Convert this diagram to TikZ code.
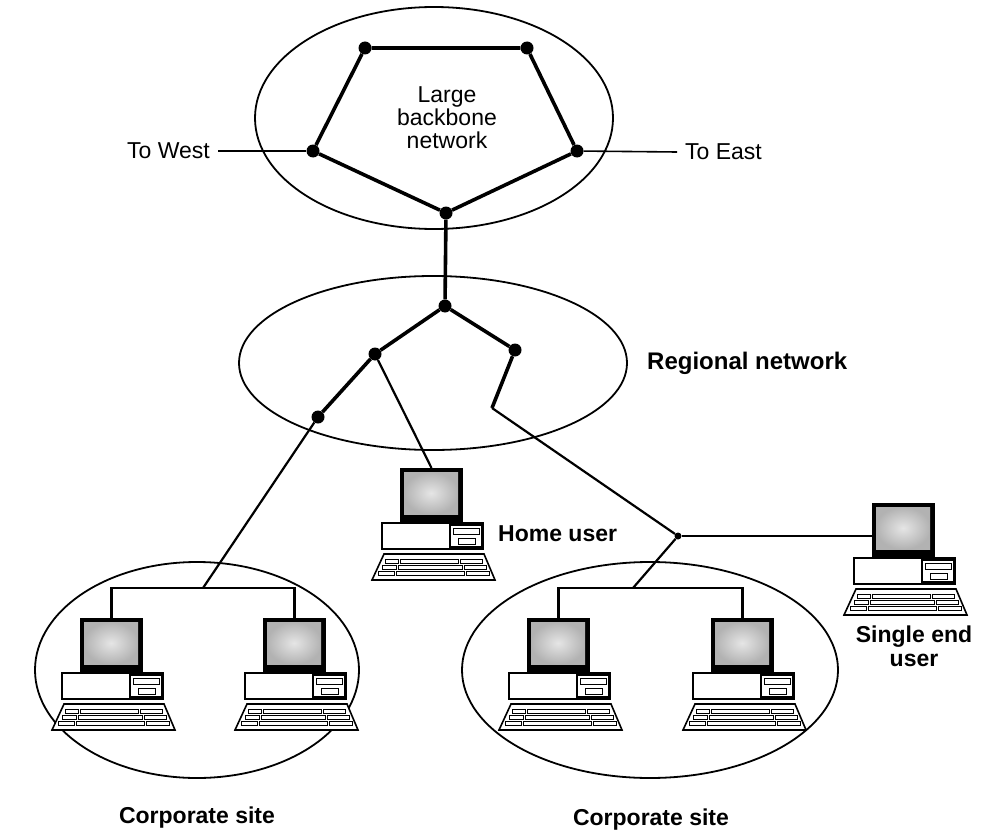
\documentclass[tikz,border=0pt]{standalone}
\usepackage{fontspec}
\setmainfont{Liberation Sans}
\begin{document}
\begin{tikzpicture}[x=1pt,y=-1pt,
  txt/.style={font=\fontsize{23}{26}\selectfont, inner sep=3pt},
  btxt/.style={font=\fontsize{23}{26}\selectfont\bfseries, inner sep=3pt},
  hub/.style={circle, fill=black, inner sep=0pt, minimum size=13pt},
  dot/.style={circle, fill=black, inner sep=0pt, minimum size=7pt},
  cloud/.style={line width=1.8pt},
  trunk/.style={line width=3.6pt},
  wire/.style={line width=2.2pt},
  feed/.style={line width=1.6pt},
  computer/.pic={
    % monitor with dark bezel and grey screen
    \node[fill=black, draw=black, line width=1pt, inner sep=0pt,
          minimum width=62pt, minimum height=54pt, anchor=north west] (-mon) at (0,0) {};
    \shade[inner color=gray!20, outer color=gray!60] (4,4) rectangle (58,46);
    % system unit
    \draw[line width=1.6pt, fill=white] (-18,55) rectangle (83,81);
    \draw[line width=1.4pt] (50,57) rectangle (82,79);
    \draw[line width=1pt] (53,60) rectangle (79,66);
    \draw[line width=1pt] (58,70) rectangle (75,76);
    % keyboard
    \draw[line width=1.6pt, fill=white] (-16,86) -- (84,86) -- (95,112) -- (-28,112) -- cycle;
    \draw[line width=0.8pt]
      (-15,91) rectangle (-2,95) (0,91) rectangle (58,95) (60,91) rectangle (82,95)
      (-18,97) rectangle (-4,101) (-2,97) rectangle (62,101) (64,97) rectangle (86,101)
      (-22,103) rectangle (-6,107) (-4,103) rectangle (64,107) (66,103) rectangle (89,107);
  }]
\useasboundingbox (0,0) rectangle (982,832);

% cloud outlines
\draw[cloud] (434,118) ellipse [x radius=179, y radius=111];
\draw[cloud] (433,363) ellipse [x radius=194, y radius=87];
\draw[cloud] (197,670) ellipse [x radius=162, y radius=108];
\draw[cloud] (650,670) ellipse [x radius=188, y radius=108];

% backbone routers
\node[hub] (btl) at (365,48) {};
\node[hub] (btr) at (527,48) {};
\node[hub] (bl)  at (313,151) {};
\node[hub] (br)  at (577,151) {};
\node[hub] (bb)  at (446,213) {};
\draw[trunk] (btl) -- (btr) -- (br) -- (bb) -- (bl) -- (btl);

\node[txt, align=center] (bbtxt) at (447,118) {Large\\[-3pt]backbone\\[-3pt]network};

\node[txt, anchor=east] (west) at (213,151) {To West};
\node[txt, anchor=west] (east) at (682,152) {To East};
\draw[feed] (west.east) ++(5,0) -- (bl);
\draw[feed] (br) -- ([xshift=-5pt]east.west);

% regional routers
\node[hub] (rt)  at (445,306) {};
\node[hub] (rl)  at (375,354) {};
\node[hub] (rr)  at (515,350) {};
\node[hub] (rll) at (318,417) {};
\coordinate (bend) at (492,408);
\draw[trunk] (bb) -- (rt);
\draw[trunk] (rt) -- (rl) -- (rll);
\draw[trunk] (rt) -- (rr) -- (bend);
\node[btxt, anchor=west, font=\fontsize{24}{27}\selectfont\bfseries] (regtxt) at (644,363) {Regional network};

% computers
\pic (home) at (400,468) {computer};
\pic (ca) at (80,618) {computer};
\pic (cb) at (263,618) {computer};
\pic (cc) at (527,618) {computer};
\pic (cd) at (711,618) {computer};
\pic (single) at (872,503) {computer};

\node[btxt, anchor=west] (hometxt) at (495,534) {Home user};
\node[btxt, align=center] (singletxt) at (914,646) {Single end\\[-2pt]user};
\node[btxt] (sitea) at (197,818) {Corporate site};
\node[btxt] (siteb) at (651,820) {Corporate site};

% access lines
\draw[wire] (rl) -- (home-mon.north);
\coordinate (tapa) at (203,588);
\coordinate (tapb) at (633,588);
\node[dot] (j) at (678,536) {};
\draw[wire] (rll) -- (tapa);
\draw[wire] (bend) -- (j);
\draw[wire] (j) -- (single-mon.west |- j);
\draw[wire] (j) -- (tapb);

% LAN buses inside the corporate sites
\draw[wire] (ca-mon.north) -- ++(0,-30) -| (cb-mon.north);
\draw[wire] (cc-mon.north) -- ++(0,-30) -| (cd-mon.north);
\end{tikzpicture}
\end{document}
